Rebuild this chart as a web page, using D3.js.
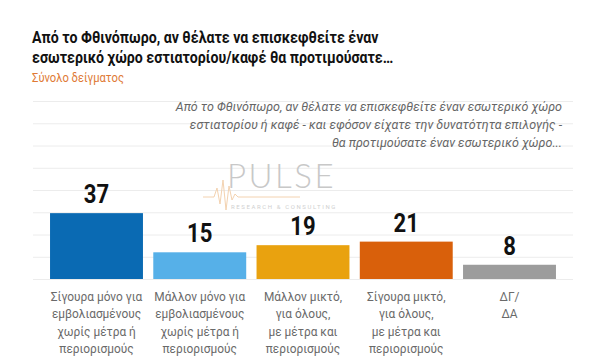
<!DOCTYPE html>
<html><head><meta charset="utf-8">
<script src="https://cdn.jsdelivr.net/npm/d3@7"></script>
<style>
body{margin:0;background:#fff;}
svg{display:block;}
</style></head>
<body>
<svg id="c" width="600" height="358"></svg>
<script>
const categories = [
  ["Σίγουρα μόνο για","εμβολιασμένους","χωρίς μέτρα ή","περιορισμούς"],
  ["Μάλλον μόνο για","εμβολιασμένους","χωρίς μέτρα ή","περιορισμούς"],
  ["Μάλλον μικτό,","για όλους,","με μέτρα και","περιορισμούς"],
  ["Σίγουρα μικτό,","για όλους,","με μέτρα και","περιορισμούς"],
  ["ΔΓ/","ΔΑ"]
];
const values = [37, 15, 19, 21, 8];
const colors = ["#0a6ab3", "#56b0e8", "#e9a20f", "#d9600b", "#9c9c9c"];
const yTicks = [0, 12.5, 25, 37.5, 50, 62.5, 75, 87.5, 100];
const titleLines = ["Από το Φθινόπωρο, αν θέλατε να επισκεφθείτε έναν","εσωτερικό χώρο εστιατορίου/καφέ θα προτιμούσατε…"];
const subtitle = "Σύνολο δείγματος";
const noteLines = ["Από το Φθινόπωρο, αν θέλατε να επισκεφθείτε έναν εσωτερικό χώρο","εστιατορίου ή καφέ - και εφόσον είχατε την δυνατότητα επιλογής -","θα προτιμούσατε έναν εσωτερικό χώρο..."];

const svg = d3.select("#c");
const FONT = "Roboto, 'Liberation Sans', sans-serif";

const x = d3.scaleBand().domain(d3.range(values.length)).range([33, 573]).paddingInner(0.1).paddingOuter(0.165);
const y = d3.scaleLinear().domain([0, 100]).range([279, 101]);

// gridlines
const yAxis = d3.axisLeft(y).tickValues(yTicks).tickSize(-(573-33)).tickFormat("");
const ga = svg.append("g").attr("transform","translate(33,0)").call(yAxis);
ga.select(".domain").remove();
ga.selectAll(".tick line").attr("stroke","#ececec").attr("stroke-width",1);

// watermark
const wm = svg.append("g");
wm.append("path").attr("d","M203,197 L214,197 L217,188 L220,204 L223,180 L226,210 L229,186 L232,200 L235,194 L238,197 L300,197")
  .attr("fill","none").attr("stroke","#f3d2b0").attr("stroke-width",1);
wm.append("text").attr("x",227).attr("y",188).attr("font-family","Lato, "+FONT).attr("font-weight",300)
  .attr("font-size",33).attr("letter-spacing",2.5).attr("fill","#c8c8c8").text("PULSE");
wm.append("text").attr("x",231).attr("y",209).attr("font-family",FONT)
  .attr("font-size",6).attr("letter-spacing",1.6).attr("fill","#d0d0d0").text("RESEARCH & CONSULTING");

// bars
svg.append("g").selectAll("rect").data(values).join("rect")
  .attr("x",(d,i)=>x(i)).attr("width",x.bandwidth())
  .attr("y",d=>y(d)).attr("height",d=>y(0)-y(d))
  .attr("fill",(d,i)=>colors[i]);

// value labels
svg.append("g").selectAll("text").data(values).join("text")
  .attr("x",(d,i)=>x(i)+x.bandwidth()/2).attr("y",d=>y(d)-10)
  .attr("text-anchor","middle").attr("font-family",FONT).attr("font-weight",700)
  .attr("font-size",26).attr("fill","#111")
  .attr("transform",(d,i)=>{const cx=x(i)+x.bandwidth()/2;return `translate(${cx},0) scale(0.85,1) translate(${-cx},0)`;})
  .text(d=>d);

// category labels
const cl = svg.append("g").selectAll("text").data(categories).join("text")
  .attr("text-anchor","middle").attr("font-family",FONT).attr("font-size",13.5).attr("fill","#6a6a6a")
  .attr("transform",(d,i)=>{const cx=x(i)+x.bandwidth()/2;return `translate(${cx},0) scale(0.88,1) translate(${-cx},0)`;});
cl.each(function(lines,i){
  const t=d3.select(this);
  lines.forEach((ln,j)=>t.append("tspan").attr("x",x(i)+x.bandwidth()/2).attr("y",301+j*17.5).text(ln));
});

// title
const tt = svg.append("text").attr("font-family",FONT).attr("font-weight",700).attr("font-size",16.5).attr("fill","#111")
  .attr("transform","translate(32,0) scale(0.86,1) translate(-32,0)");
titleLines.forEach((ln,j)=>tt.append("tspan").attr("x",32).attr("y",43+j*20).text(ln));
svg.append("text").attr("x",32).attr("y",82).attr("font-family",FONT).attr("font-size",13.5).attr("fill","#e07a35")
  .attr("transform","translate(32,0) scale(0.83,1) translate(-32,0)").text(subtitle);

// note
const nt = svg.append("text").attr("font-family",FONT).attr("font-style","italic").attr("font-size",12.5).attr("fill","#666")
  .attr("text-anchor","end");
noteLines.forEach((ln,j)=>nt.append("tspan").attr("x",562).attr("y",111+j*18).text(ln));
</script>
</body></html>
